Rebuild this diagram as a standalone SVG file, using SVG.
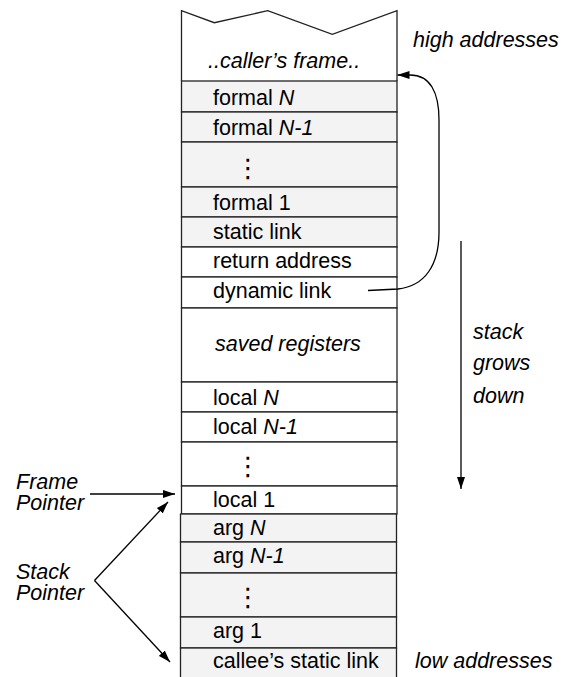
<svg xmlns="http://www.w3.org/2000/svg" width="570" height="677" viewBox="0 0 570 677">
  <style>
    .cell { stroke: #222; stroke-width: 1.3; }
    .w { fill: #ffffff; }
    .g { fill: #f3f3f3; }
    text { font-family: "Liberation Sans", Arial, Helvetica, sans-serif; font-size: 21.5px; fill: #000; }
    .it { font-style: italic; }
    .dots { font-family: "DejaVu Sans", sans-serif; font-size: 26px; }
    .wire { fill: none; stroke: #000; stroke-width: 1.3; }
  </style>
  <defs>
    <marker id="head" viewBox="0 0 12 8" refX="12" refY="4" markerWidth="12" markerHeight="8" markerUnits="userSpaceOnUse" orient="auto">
      <path d="M0,0 L12,4 L0,8 Z" fill="#000"/>
    </marker>
  </defs>

  <rect width="570" height="677" fill="#fff"/>

  <!-- caller's frame: open-ended top with a jagged edge -->
  <g id="caller-frame">
    <path class="cell w" d="M181.5,81 L181.5,10.7 L214.3,22.7 L267.7,10.7 L332.3,34.3 L397,10.7 L397,81"/>
    <text class="it" x="208" y="68">..caller’s frame..</text>
  </g>

  <g id="formal-n">
    <rect class="cell g" x="181.5" y="81" width="215.5" height="31"/>
    <text x="213" y="105">formal <tspan class="it">N</tspan></text>
  </g>
  <g id="formal-n-1">
    <rect class="cell g" x="181.5" y="112" width="215.5" height="30"/>
    <text x="213" y="135">formal <tspan class="it">N-1</tspan></text>
  </g>
  <g id="formal-dots">
    <rect class="cell g" x="181.5" y="142" width="215.5" height="45"/>
    <text class="dots" x="248" y="177" text-anchor="middle">⋮</text>
  </g>
  <g id="formal-1">
    <rect class="cell g" x="181.5" y="187" width="215.5" height="30"/>
    <text x="213" y="210">formal 1</text>
  </g>
  <g id="static-link">
    <rect class="cell g" x="181.5" y="217" width="215.5" height="30"/>
    <text x="213" y="239">static link</text>
  </g>
  <g id="return-address">
    <rect class="cell w" x="181.5" y="247" width="215.5" height="30"/>
    <text x="213" y="268">return address</text>
  </g>
  <g id="dynamic-link">
    <rect class="cell w" x="181.5" y="277" width="215.5" height="31"/>
    <text x="213" y="298">dynamic link</text>
  </g>
  <g id="saved-registers">
    <rect class="cell w" x="181.5" y="308" width="215.5" height="74"/>
    <text class="it" x="215" y="351">saved registers</text>
  </g>
  <g id="local-n">
    <rect class="cell w" x="181.5" y="382" width="215.5" height="30"/>
    <text x="213" y="405">local <tspan class="it">N</tspan></text>
  </g>
  <g id="local-n-1">
    <rect class="cell w" x="181.5" y="412" width="215.5" height="30"/>
    <text x="213" y="434">local <tspan class="it">N-1</tspan></text>
  </g>
  <g id="local-dots">
    <rect class="cell w" x="181.5" y="442" width="215.5" height="44"/>
    <text class="dots" x="248" y="475" text-anchor="middle">⋮</text>
  </g>
  <g id="local-1">
    <rect class="cell w" x="181.5" y="486" width="215.5" height="28"/>
    <text x="213" y="507">local 1</text>
  </g>

  <!-- outgoing arguments block -->
  <g id="arg-n">
    <rect class="cell g" x="180.5" y="514" width="216" height="28" stroke-width="1.6"/>
    <text x="213" y="535">arg <tspan class="it">N</tspan></text>
  </g>
  <g id="arg-n-1">
    <rect class="cell g" x="180.5" y="542" width="216" height="31" stroke-width="1.6"/>
    <text x="213" y="563">arg <tspan class="it">N-1</tspan></text>
  </g>
  <g id="arg-dots">
    <rect class="cell g" x="180.5" y="573" width="216" height="44" stroke-width="1.6"/>
    <text class="dots" x="248" y="606" text-anchor="middle">⋮</text>
  </g>
  <g id="arg-1">
    <rect class="cell g" x="180.5" y="617" width="216" height="31" stroke-width="1.6"/>
    <text x="213" y="638">arg 1</text>
  </g>
  <g id="callee-static-link">
    <rect class="cell g" x="180.5" y="648" width="216" height="40" stroke-width="1.6"/>
    <text x="213" y="668">callee’s static link</text>
  </g>

  <!-- side annotations -->
  <g id="high-addresses"><text class="it" x="413" y="47">high addresses</text></g>
  <g id="low-addresses"><text class="it" x="415" y="668">low addresses</text></g>
  <g id="stack-grows-down">
    <text class="it" x="473" y="339">stack</text>
    <text class="it" x="473" y="370">grows</text>
    <text class="it" x="473" y="403">down</text>
  </g>
  <g id="frame-pointer">
    <text class="it" x="16" y="489">Frame</text>
    <text class="it" x="16" y="510">Pointer</text>
  </g>
  <g id="stack-pointer">
    <text class="it" x="16" y="579">Stack</text>
    <text class="it" x="16" y="600">Pointer</text>
  </g>

  <g id="connectors">
    <!-- dynamic link back to the caller's frame -->
    <path class="wire" marker-end="url(#head)" d="M368,290.5 L398,289 C425,286 439,265 439,232 L439,120 C439,92 430,75 410,75 L397.5,75"/>
    <!-- growth direction -->
    <path class="wire" marker-end="url(#head)" d="M461,241 L461,489"/>
    <!-- frame pointer -->
    <path class="wire" marker-end="url(#head)" d="M90,494 L175,494"/>
    <!-- stack pointer -->
    <path class="wire" marker-end="url(#head)" d="M94.5,580.5 L168,502"/>
    <path class="wire" marker-end="url(#head)" d="M94.5,580.5 L170,662"/>
  </g>
</svg>
